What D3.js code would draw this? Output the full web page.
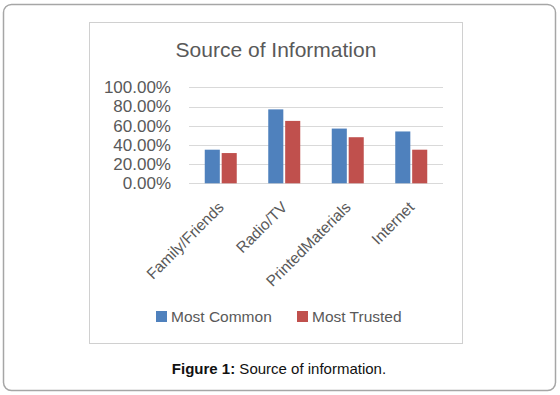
<!DOCTYPE html>
<html>
<head>
<meta charset="utf-8">
<script src="https://cdn.jsdelivr.net/npm/d3@7"></script>
<style>
  body { margin: 0; background: #fff; }
  svg { display: block; }
</style>
</head>
<body>
<div id="chart"></div>
<script>
(() => {
    const categories = ['Family/Friends', 'Radio/TV', 'PrintedMaterials', 'Internet'];
    const seriesNames = ['Most Common', 'Most Trusted'];
    const mostCommon = [0.35, 0.77, 0.57, 0.54];
    const mostTrusted = [0.315, 0.65, 0.48, 0.35];
    const yTicks = [0, 0.2, 0.4, 0.6, 0.8, 1.0];
    const colors = ['#4F81BD', '#C0504D'];

    const width = 560;
    const height = 395;
    const plot = { left: 189, right: 443, top: 87.3, bottom: 183.3 };
    const textColor = '#595959';
    const font = '"Liberation Sans", Arial, sans-serif';

    const svg = d3.select('#chart')
        .append('svg')
        .attr('width', width)
        .attr('height', height);

    // outer rounded frame
    svg.append('rect')
        .attr('x', 3.5).attr('y', 4.5)
        .attr('width', 552).attr('height', 386)
        .attr('rx', 8).attr('ry', 8)
        .attr('fill', '#fff')
        .attr('stroke', '#a6a6a6')
        .attr('stroke-width', 1.5);

    // chart area frame
    svg.append('rect')
        .attr('x', 89.5).attr('y', 22.5)
        .attr('width', 373).attr('height', 321)
        .attr('fill', '#fff')
        .attr('stroke', '#d0d0d0')
        .attr('stroke-width', 1);

    svg.append('text')
        .attr('x', 276).attr('y', 57)
        .attr('text-anchor', 'middle')
        .style('font-family', font)
        .style('font-size', '21px')
        .attr('fill', textColor)
        .text('Source of Information');

    const x0 = d3.scaleBand()
        .domain(categories)
        .range([plot.left, plot.right]);

    const x1 = d3.scaleBand()
        .domain(seriesNames)
        .range([x0.bandwidth() / 2 - 16, x0.bandwidth() / 2 + 16])
        .paddingInner(0.11);

    const y = d3.scaleLinear()
        .domain([0, 1])
        .range([plot.bottom, plot.top]);

    // gridlines
    svg.append('g')
        .selectAll('line')
        .data(yTicks)
        .enter()
        .append('line')
        .attr('x1', plot.left).attr('x2', plot.right)
        .attr('y1', d => Math.round(y(d)) + 0.5)
        .attr('y2', d => Math.round(y(d)) + 0.5)
        .attr('stroke', '#d9d9d9')
        .attr('stroke-width', 1);

    // y axis labels
    const yAxis = svg.append('g')
        .attr('transform', `translate(${plot.left},0)`)
        .call(d3.axisLeft(y).tickValues(yTicks).tickFormat(d3.format('.2%')).tickSize(0).tickPadding(18));
    yAxis.select('.domain').remove();
    yAxis.selectAll('text')
        .style('font-family', font)
        .style('font-size', '17px')
        .attr('fill', textColor);

    // bars
    const data = categories.map((c, i) => ({
        category: c,
        values: [
            { series: seriesNames[0], value: mostCommon[i] },
            { series: seriesNames[1], value: mostTrusted[i] },
        ],
    }));

    const groups = svg.append('g')
        .selectAll('g')
        .data(data)
        .enter()
        .append('g')
        .attr('transform', d => `translate(${x0(d.category)},0)`);

    groups.selectAll('rect')
        .data(d => d.values)
        .enter()
        .append('rect')
        .attr('x', d => x1(d.series))
        .attr('y', d => y(d.value))
        .attr('width', x1.bandwidth())
        .attr('height', d => plot.bottom - y(d.value))
        .attr('fill', (d, i) => colors[i]);

    // x axis labels, rotated
    const xAxis = svg.append('g')
        .attr('transform', `translate(0,${plot.bottom})`)
        .call(d3.axisBottom(x0).tickSize(0).tickPadding(0));
    xAxis.select('.domain').remove();
    xAxis.selectAll('text')
        .style('font-family', font)
        .style('font-size', '15.5px')
        .attr('fill', textColor)
        .attr('text-anchor', 'end')
        .attr('dy', null)
        .attr('y', 0)
        .attr('transform', 'translate(4,25) rotate(-45)');

    // legend
    const legend = svg.append('g')
        .selectAll('g')
        .data(seriesNames)
        .enter()
        .append('g')
        .attr('transform', (d, i) => `translate(${[156, 297][i]},311)`);

    legend.append('rect')
        .attr('width', 11).attr('height', 11)
        .attr('fill', (d, i) => colors[i]);

    legend.append('text')
        .attr('x', 15).attr('y', 11)
        .style('font-family', font)
        .style('font-size', '15.5px')
        .attr('fill', textColor)
        .text(d => d);

    // caption
    const caption = svg.append('text')
        .attr('x', 279).attr('y', 374)
        .attr('text-anchor', 'middle')
        .style('font-family', font)
        .style('font-size', '15px')
        .attr('fill', '#111');
    caption.append('tspan').style('font-weight', 'bold').text('Figure 1:');
    caption.append('tspan').text(' Source of information.');
})();
</script>
</body>
</html>
